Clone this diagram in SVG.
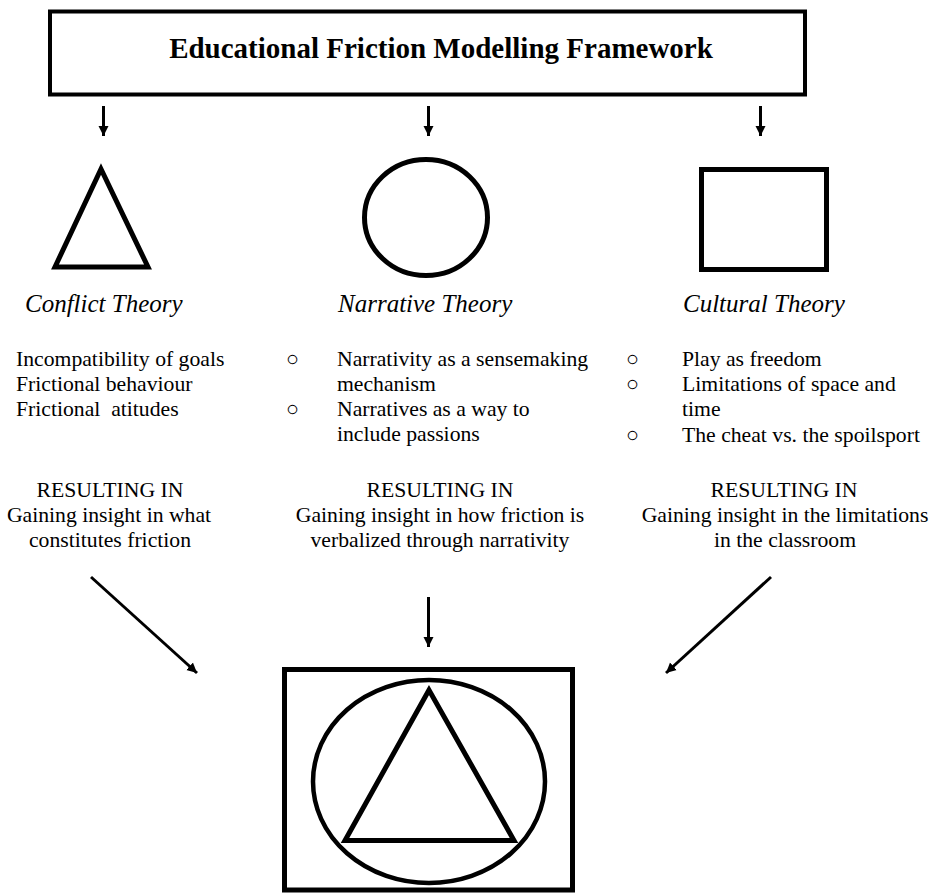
<svg xmlns="http://www.w3.org/2000/svg" width="934" height="893" viewBox="0 0 934 893" font-family="'Liberation Serif', 'Times New Roman', 'DejaVu Serif', serif">
  <style>
    text { font-family: "Liberation Serif", "Times New Roman", Times, "DejaVu Serif", serif; fill: #000; }
    .title { font-size: 29px; font-weight: bold; text-anchor: middle; }
    .theory { font-size: 25px; font-style: italic; }
    .body { font-size: 21.7px; }
    .mid { text-anchor: middle; }
    .shape { fill: none; stroke: #000; stroke-width: 5; stroke-linejoin: miter; }
    .conn { stroke: #000; stroke-width: 3; fill: none; marker-end: url(#head); }
  </style>
  <defs>
    <marker id="head" markerUnits="userSpaceOnUse" markerWidth="12" markerHeight="12" viewBox="0 0 12 12" refX="10" refY="6" orient="auto">
      <path d="M0,1 L10,6 L0,11 Z" fill="#000"/>
    </marker>
  </defs>
  <rect width="934" height="893" fill="#fff"/>

  <g id="framework">
    <rect x="50" y="11.5" width="755" height="83" fill="#fff" stroke="#000" stroke-width="4"/>
    <text class="title" x="441" y="58">Educational Friction Modelling Framework</text>
  </g>

  <g id="connectors">
    <line class="conn" x1="103.5" y1="106" x2="103.5" y2="136"/>
    <line class="conn" x1="428.5" y1="106" x2="428.5" y2="136"/>
    <line class="conn" x1="760.5" y1="106" x2="760.5" y2="136"/>
    <line class="conn" x1="91" y1="577" x2="197" y2="673"/>
    <line class="conn" x1="428.5" y1="597" x2="428.5" y2="647"/>
    <line class="conn" x1="771" y1="577" x2="666" y2="673"/>
  </g>

  <g id="conflict">
    <polygon class="shape" points="101,169 55,267 148,267"/>
    <text class="theory" x="25" y="312">Conflict Theory</text>
    <text class="body" x="16" y="366">Incompatibility of goals</text>
    <text class="body" x="16" y="391">Frictional behaviour</text>
    <text class="body" x="16" y="416" xml:space="preserve">Frictional  atitudes</text>
    <text class="body mid" x="110" y="497">RESULTING IN</text>
    <text class="body mid" x="109" y="522">Gaining insight in what</text>
    <text class="body mid" x="110" y="547">constitutes friction</text>
  </g>

  <g id="narrative">
    <ellipse class="shape" cx="426" cy="217.5" rx="61.5" ry="58"/>
    <text class="theory" x="338" y="312">Narrative Theory</text>
    <text class="body" x="286" y="366">○</text>
    <text class="body" x="337" y="366">Narrativity as a sensemaking</text>
    <text class="body" x="337" y="391">mechanism</text>
    <text class="body" x="286" y="416">○</text>
    <text class="body" x="337" y="416">Narratives as a way to</text>
    <text class="body" x="337" y="441">include passions</text>
    <text class="body mid" x="440" y="497">RESULTING IN</text>
    <text class="body mid" x="440" y="522">Gaining insight in how friction is</text>
    <text class="body mid" x="440" y="547">verbalized through narrativity</text>
  </g>

  <g id="cultural">
    <rect class="shape" x="701.5" y="169.5" width="125" height="100"/>
    <text class="theory" x="683" y="312">Cultural Theory</text>
    <text class="body" x="626" y="366">○</text>
    <text class="body" x="682" y="366">Play as freedom</text>
    <text class="body" x="626" y="391">○</text>
    <text class="body" x="682" y="391">Limitations of space and</text>
    <text class="body" x="682" y="416">time</text>
    <text class="body" x="626" y="442">○</text>
    <text class="body" x="682" y="442">The cheat vs. the spoilsport</text>
    <text class="body mid" x="784" y="497">RESULTING IN</text>
    <text class="body mid" x="785" y="522">Gaining insight in the limitations</text>
    <text class="body mid" x="785" y="547">in the classroom</text>
  </g>

  <g id="synthesis">
    <rect class="shape" x="284.5" y="669.5" width="288" height="220.5"/>
    <ellipse cx="429" cy="781.5" rx="116" ry="101.5" fill="none" stroke="#000" stroke-width="4.5"/>
    <polygon class="shape" points="429,690 345,840.5 514,840.5"/>
  </g>
</svg>
